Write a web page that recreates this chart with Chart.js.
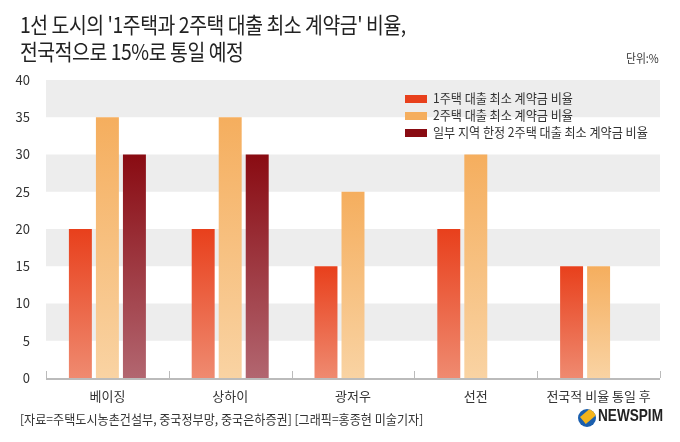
<!DOCTYPE html>
<html>
<head>
<meta charset="utf-8">
<script src="https://cdn.jsdelivr.net/npm/chart.js@4"></script>
<style>
  body { margin: 0; background: #fff; }
  #wrap { position: relative; width: 680px; height: 442px; overflow: hidden; font-family: "Noto Sans CJK KR", "Noto Sans", sans-serif; color: #222; }
  #c { position: absolute; left: 0; top: 0; }
  .title { position: absolute; left: 20px; font-size: 22px; line-height: 1; white-space: nowrap; transform-origin: left top; transform: scaleX(0.88); letter-spacing: -0.5px; color: #222; }
  .unit { position: absolute; left: 626px; top: 49px; font-size: 12px; white-space: nowrap; transform-origin: left top; transform: scaleX(0.9); color: #333; }
  .legend { position: absolute; left: 405px; top: 89px; font-size: 13px; color: #333; }
  .legend div { height: 17px; line-height: 17px; white-space: nowrap; }
  .legend span.box { display: inline-block; width: 22px; height: 8px; margin-right: 6px; vertical-align: 0px; }
  .legend span.txt { display: inline-block; transform-origin: left center; transform: scaleX(0.93); }
  .source { position: absolute; left: 20px; top: 409px; font-size: 13px; white-space: nowrap; transform-origin: left top; transform: scaleX(0.93); color: #333; }
  .logo { position: absolute; left: 578px; top: 409px; height: 18px; }
  .logo .ic { position: absolute; left: 0; top: 0; width: 18px; height: 18px; border-radius: 50%; background: #1b5fae; overflow: hidden; }
  .logo .ic i { position: absolute; left: 2px; top: 8px; width: 16px; height: 9px; background: #f4b41a; transform: rotate(-40deg); transform-origin: left top; }
  .logo .nm { position: absolute; left: 20px; top: -3px; font-family: "Liberation Sans", sans-serif; font-weight: 700; font-size: 17px; white-space: nowrap; transform-origin: left top; transform: scaleX(0.8); color: #222; }
</style>
</head>
<body>
<div id="wrap">
  <canvas id="c" width="680" height="442"></canvas>
  <div class="title" style="top:12px">1선 도시의 '1주택과 2주택 대출 최소 계약금' 비율,</div>
  <div class="title" style="top:39px">전국적으로 15%로 통일 예정</div>
  <div class="unit">단위:%</div>
  <div class="legend" id="legend"></div>
  <div class="source">[자료=주택도시농촌건설부, 중국정부망, 중국은하증권] [그래픽=홍종현 미술기자]</div>
  <div class="logo"><div class="ic"><i></i></div><div class="nm">NEWSPIM</div></div>
</div>
<script>
var categories = ["베이징", "상하이", "광저우", "선전", "전국적 비율 통일 후"];
var seriesNames = ["1주택 대출 최소 계약금 비율", "2주택 대출 최소 계약금 비율", "일부 지역 한정 2주택 대출 최소 계약금 비율"];
var firstHome = [20, 20, 15, 20, 15];
var secondHome = [35, 35, 25, 30, 15];
var secondHomeLimited = [30, 30, null, null, null];
var yTicks = [0, 5, 10, 15, 20, 25, 30, 35, 40];

var topColors = ["#e8401c", "#f5ae5e", "#890b12"];
var bottomColors = ["#ef8a70", "#f9d3a3", "#b26670"];

function grad(i) {
    return function (ctx) {
        var chart = ctx.chart;
        if (!chart.chartArea || ctx.raw == null) return topColors[i];
        var y = chart.scales.y;
        var g = chart.ctx.createLinearGradient(0, y.getPixelForValue(ctx.raw), 0, y.getPixelForValue(0));
        g.addColorStop(0, topColors[i]);
        g.addColorStop(1, bottomColors[i]);
        return g;
    };
}

// gray bands + baseline with small ticks
var bands = {
    id: "bands",
    beforeDatasetsDraw: function (chart) {
        var c = chart.ctx, a = chart.chartArea, y = chart.scales.y;
        c.save();
        c.fillStyle = "#ededed";
        [5, 15, 25, 35].forEach(function (v) {
            var t = y.getPixelForValue(v + 5), b = y.getPixelForValue(v);
            c.fillRect(a.left, t, a.right - a.left, b - t);
        });
        c.restore();
    },
    afterDatasetsDraw: function (chart) {
        var c = chart.ctx, a = chart.chartArea;
        c.save();
        c.strokeStyle = "#bbbbbb";
        c.lineWidth = 2;
        c.beginPath();
        c.moveTo(a.left, a.bottom + 1);
        c.lineTo(a.right, a.bottom + 1);
        c.stroke();
        c.lineWidth = 1;
        var w = (a.right - a.left) / categories.length;
        for (var i = 0; i <= categories.length; i++) {
            var px = Math.round(a.left + i * w) + 0.5;
            c.beginPath();
            c.moveTo(px, a.bottom - 7);
            c.lineTo(px, a.bottom);
            c.stroke();
        }
        c.restore();
    }
};

var data = [firstHome, secondHome, secondHomeLimited];
var datasets = data.map(function (d, i) {
    return {
        label: seriesNames[i],
        data: d,
        backgroundColor: grad(i),
        barPercentage: 0.85,
        categoryPercentage: 0.66
    };
});

var legend = document.getElementById("legend");
seriesNames.forEach(function (n, i) {
    var row = document.createElement("div");
    row.innerHTML = '<span class="box" style="background:' + topColors[i] + '"></span><span class="txt">' + n + '</span>';
    legend.appendChild(row);
});

new Chart(document.getElementById("c"), {
    type: "bar",
    data: { labels: categories, datasets: datasets },
    plugins: [bands],
    options: {
        responsive: false,
        animation: false,
        layout: { padding: { left: 0, right: 20, top: 80, bottom: 0 } },
        plugins: { legend: { display: false }, tooltip: { enabled: false } },
        scales: {
            x: {
                grid: { display: false },
                border: { display: false },
                ticks: { color: "#333", font: { family: "Noto Sans CJK KR", size: 13 }, padding: 2 },
                afterFit: function (s) { s.height = 64; }
            },
            y: {
                min: 0, max: 40,
                afterBuildTicks: function (s) { s.ticks = yTicks.map(function (v) { return { value: v }; }); },
                grid: { display: false },
                border: { display: false },
                ticks: { color: "#333", font: { family: "Noto Sans CJK KR", size: 13 }, padding: 8 },
                afterFit: function (s) { s.width = 46; }
            }
        }
    }
});
</script>
</body>
</html>
